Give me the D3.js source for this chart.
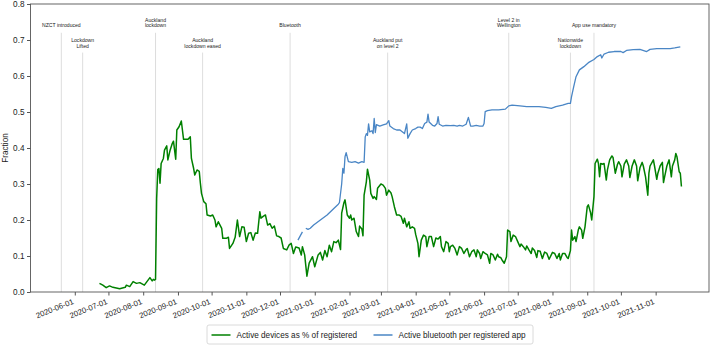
<!DOCTYPE html>
<html><head><meta charset="utf-8">
<script src="https://cdn.jsdelivr.net/npm/d3@7"></script>
<style>body{margin:0;background:#fff}svg{display:block;font-family:"Liberation Sans",Arial,sans-serif}</style>
</head><body>
<svg id="c" width="714" height="345"></svg>
<script>
const greenDates = ["2020-06-23","2020-06-26","2020-06-29","2020-07-02","2020-07-05","2020-07-11","2020-07-16","2020-07-17","2020-07-20","2020-07-23","2020-07-26","2020-07-29","2020-08-02","2020-08-07","2020-08-09","2020-08-10","2020-08-11","2020-08-12","2020-08-13","2020-08-14","2020-08-15","2020-08-16","2020-08-17","2020-08-19","2020-08-20","2020-08-22","2020-08-23","2020-08-25","2020-08-27","2020-08-28","2020-08-30","2020-08-31","2020-09-02","2020-09-04","2020-09-06","2020-09-10","2020-09-12","2020-09-13","2020-09-15","2020-09-16","2020-09-18","2020-09-20","2020-09-21","2020-09-22","2020-09-24","2020-09-26","2020-09-27","2020-09-30","2020-10-02","2020-10-04","2020-10-05","2020-10-07","2020-10-10","2020-10-11","2020-10-14","2020-10-16","2020-10-17","2020-10-20","2020-10-22","2020-10-24","2020-10-26","2020-10-28","2020-10-30","2020-11-01","2020-11-03","2020-11-05","2020-11-07","2020-11-09","2020-11-11","2020-11-13","2020-11-14","2020-11-16","2020-11-18","2020-11-20","2020-11-22","2020-11-24","2020-11-26","2020-11-28","2020-11-30","2020-12-02","2020-12-04","2020-12-07","2020-12-09","2020-12-11","2020-12-13","2020-12-15","2020-12-18","2020-12-20","2020-12-21","2020-12-23","2020-12-25","2020-12-27","2020-12-30","2021-01-01","2021-01-04","2021-01-06","2021-01-08","2021-01-10","2021-01-12","2021-01-14","2021-01-16","2021-01-18","2021-01-20","2021-01-22","2021-01-24","2021-01-25","2021-01-27","2021-01-28","2021-01-30","2021-02-01","2021-02-02","2021-02-03","2021-02-05","2021-02-07","2021-02-09","2021-02-10","2021-02-12","2021-02-13","2021-02-14","2021-02-16","2021-02-17","2021-02-19","2021-02-20","2021-02-22","2021-02-23","2021-02-25","2021-02-26","2021-03-01","2021-03-03","2021-03-05","2021-03-06","2021-03-08","2021-03-10","2021-03-11","2021-03-13","2021-03-15","2021-03-17","2021-03-19","2021-03-21","2021-03-22","2021-03-24","2021-03-26","2021-03-27","2021-03-29","2021-03-31","2021-04-01","2021-04-03","2021-04-04","2021-04-06","2021-04-08","2021-04-10","2021-04-11","2021-04-13","2021-04-15","2021-04-17","2021-04-19","2021-04-21","2021-04-23","2021-04-24","2021-04-26","2021-04-28","2021-04-30","2021-05-01","2021-05-02","2021-05-04","2021-05-06","2021-05-08","2021-05-10","2021-05-12","2021-05-14","2021-05-16","2021-05-17","2021-05-19","2021-05-21","2021-05-23","2021-05-25","2021-05-26","2021-05-28","2021-05-29","2021-05-31","2021-06-02","2021-06-04","2021-06-06","2021-06-07","2021-06-09","2021-06-11","2021-06-13","2021-06-14","2021-06-16","2021-06-17","2021-06-19","2021-06-21","2021-06-22","2021-06-24","2021-06-25","2021-06-27","2021-06-29","2021-07-01","2021-07-03","2021-07-04","2021-07-06","2021-07-08","2021-07-09","2021-07-11","2021-07-13","2021-07-14","2021-07-16","2021-07-18","2021-07-19","2021-07-21","2021-07-23","2021-07-25","2021-07-27","2021-07-29","2021-08-01","2021-08-03","2021-08-05","2021-08-07","2021-08-08","2021-08-10","2021-08-12","2021-08-14","2021-08-15","2021-08-17","2021-08-18","2021-08-19","2021-08-21","2021-08-22","2021-08-24","2021-08-25","2021-08-27","2021-08-28","2021-08-30","2021-09-01","2021-09-02","2021-09-04","2021-09-05","2021-09-07","2021-09-08","2021-09-10","2021-09-11","2021-09-12","2021-09-13","2021-09-15","2021-09-16","2021-09-18","2021-09-19","2021-09-21","2021-09-23","2021-09-24","2021-09-26","2021-09-28","2021-09-29","2021-10-01","2021-10-02","2021-10-04","2021-10-06","2021-10-08","2021-10-09","2021-10-11","2021-10-13","2021-10-15","2021-10-16","2021-10-18","2021-10-20","2021-10-21","2021-10-23","2021-10-25","2021-10-26","2021-10-27","2021-10-30","2021-10-31","2021-11-02","2021-11-03","2021-11-05","2021-11-07","2021-11-08","2021-11-09","2021-11-11","2021-11-13","2021-11-15","2021-11-16","2021-11-18","2021-11-19","2021-11-20","2021-11-22","2021-11-23","2021-11-24"];
const greenValues = [0.024,0.019,0.012,0.017,0.013,0.009,0.013,0.019,0.015,0.029,0.024,0.026,0.019,0.040,0.031,0.035,0.033,0.035,0.26,0.34,0.343,0.302,0.357,0.371,0.394,0.406,0.367,0.394,0.413,0.419,0.369,0.45,0.459,0.475,0.424,0.424,0.431,0.371,0.343,0.325,0.339,0.335,0.302,0.274,0.251,0.245,0.214,0.211,0.214,0.2,0.181,0.195,0.177,0.149,0.149,0.152,0.121,0.135,0.152,0.2,0.154,0.181,0.18,0.14,0.163,0.165,0.144,0.164,0.163,0.223,0.205,0.21,0.214,0.186,0.19,0.177,0.183,0.156,0.154,0.15,0.121,0.117,0.13,0.135,0.107,0.125,0.122,0.103,0.126,0.103,0.044,0.08,0.098,0.07,0.103,0.11,0.089,0.115,0.098,0.13,0.112,0.14,0.137,0.144,0.118,0.219,0.248,0.256,0.214,0.205,0.214,0.2,0.205,0.168,0.154,0.183,0.175,0.156,0.269,0.306,0.341,0.311,0.274,0.26,0.265,0.257,0.288,0.3,0.297,0.288,0.269,0.283,0.275,0.265,0.237,0.214,0.214,0.21,0.191,0.205,0.181,0.195,0.177,0.181,0.177,0.16,0.135,0.098,0.144,0.158,0.154,0.126,0.154,0.154,0.126,0.15,0.147,0.154,0.126,0.112,0.14,0.135,0.112,0.126,0.13,0.121,0.103,0.126,0.121,0.107,0.118,0.121,0.098,0.112,0.117,0.098,0.117,0.107,0.093,0.112,0.107,0.103,0.08,0.107,0.103,0.089,0.105,0.098,0.095,0.089,0.08,0.098,0.172,0.168,0.14,0.158,0.154,0.14,0.126,0.133,0.126,0.117,0.128,0.117,0.107,0.122,0.115,0.096,0.115,0.113,0.093,0.111,0.107,0.091,0.11,0.107,0.093,0.107,0.089,0.107,0.107,0.096,0.093,0.115,0.172,0.144,0.154,0.14,0.172,0.181,0.172,0.149,0.181,0.237,0.242,0.22,0.2,0.265,0.357,0.369,0.357,0.32,0.357,0.355,0.357,0.311,0.339,0.367,0.378,0.374,0.33,0.355,0.362,0.35,0.32,0.355,0.367,0.35,0.318,0.35,0.367,0.35,0.309,0.345,0.36,0.35,0.32,0.269,0.33,0.35,0.367,0.35,0.313,0.33,0.35,0.36,0.304,0.32,0.35,0.367,0.32,0.35,0.367,0.385,0.376,0.334,0.33,0.293];

const blueDates = ["2020-12-17","2020-12-21","2020-12-22","2020-12-24","2020-12-26","2020-12-28","2020-12-31","2021-01-06","2021-01-12","2021-01-18","2021-01-22","2021-01-23","2021-01-25","2021-01-26","2021-01-27","2021-01-28","2021-01-29","2021-01-31","2021-02-03","2021-02-06","2021-02-09","2021-02-12","2021-02-14","2021-02-15","2021-02-16","2021-02-17","2021-02-18","2021-02-19","2021-02-21","2021-02-22","2021-02-23","2021-02-24","2021-02-25","2021-02-28","2021-03-03","2021-03-06","2021-03-08","2021-03-09","2021-03-12","2021-03-15","2021-03-18","2021-03-22","2021-03-24","2021-03-25","2021-03-27","2021-03-29","2021-04-01","2021-04-03","2021-04-05","2021-04-07","2021-04-09","2021-04-11","2021-04-12","2021-04-13","2021-04-16","2021-04-18","2021-04-20","2021-04-21","2021-04-22","2021-04-25","2021-04-28","2021-05-02","2021-05-05","2021-05-08","2021-05-10","2021-05-13","2021-05-16","2021-05-18","2021-05-20","2021-05-22","2021-05-25","2021-05-28","2021-05-31","2021-06-01","2021-06-02","2021-06-04","2021-06-08","2021-06-14","2021-06-20","2021-06-23","2021-06-26","2021-07-03","2021-07-09","2021-07-14","2021-07-20","2021-07-26","2021-07-31","2021-08-04","2021-08-10","2021-08-15","2021-08-17","2021-08-18","2021-08-20","2021-08-22","2021-08-25","2021-08-29","2021-09-02","2021-09-07","2021-09-10","2021-09-13","2021-09-14","2021-09-16","2021-09-20","2021-09-25","2021-10-01","2021-10-03","2021-10-06","2021-10-12","2021-10-18","2021-10-24","2021-10-27","2021-11-02","2021-11-08","2021-11-14","2021-11-18","2021-11-23"];
const blueValues = [0.144,0.167,null,0.177,0.174,0.177,0.186,0.2,0.214,0.232,0.244,0.248,0.3,0.343,0.33,0.376,0.387,0.362,0.36,0.362,0.358,0.362,0.36,0.431,0.44,0.435,0.467,0.445,0.448,0.44,0.482,0.443,0.465,0.461,0.464,0.467,0.476,0.461,0.454,0.45,0.45,0.44,0.467,0.427,0.44,0.45,0.454,0.458,0.458,0.454,0.468,0.472,0.494,0.472,0.463,0.461,0.468,0.487,0.466,0.461,0.463,0.462,0.463,0.461,0.463,0.461,0.466,0.485,0.461,0.461,0.463,0.461,0.461,0.468,0.501,0.504,0.506,0.506,0.508,0.517,0.519,0.517,0.515,0.515,0.515,0.513,0.51,0.515,0.519,0.524,0.524,0.543,0.571,0.598,0.617,0.626,0.637,0.646,0.654,0.659,0.65,0.661,0.666,0.668,0.668,0.665,0.671,0.673,0.674,0.668,0.674,0.676,0.676,0.676,0.678,0.681];

const eventDates = ["2020-05-20","2020-06-08","2020-08-12","2020-09-23","2020-12-10","2021-03-07","2021-06-23","2021-08-17","2021-09-07"];
const eventLabels = ["NZCT introduced","Lockdown\nLifted","Auckland\nlockdown","Auckland\nlockdown eased","Bluetooth","Auckland put\non level 2","Level 2 in\nWellington","Nationwide\nlockdown","App use mandatory"];

const xTickDates = ["2020-06-01","2020-07-01","2020-08-01","2020-09-01","2020-10-01","2020-11-01","2020-12-01","2021-01-01","2021-02-01","2021-03-01","2021-04-01","2021-05-01","2021-06-01","2021-07-01","2021-08-01","2021-09-01","2021-10-01","2021-11-01"];
const yTicks = [0,0.1,0.2,0.3,0.4,0.5,0.6,0.7,0.8];
const seriesNames = ["Active devices as % of registered","Active bluetooth per registered app"];
const seriesColors = ["#008000","#4a86c5"];
const xDomain = ["2020-04-22T12:00","2021-12-18T14:00"];

const parse = d3.utcParse("%Y-%m-%d");
const parseT = d3.utcParse("%Y-%m-%dT%H:%M");
const svg = d3.select("#c");
const L = 30.5, R = 709, T = 4, B = 292;
const x = d3.scaleUtc().domain(xDomain.map(parseT)).range([L, R]);
const y = d3.scaleLinear().domain([0, 0.8]).range([B, T]);

const green = greenDates.map((d,i)=>({d:parse(d), v:greenValues[i]}));
const blue = blueDates.map((d,i)=>({d:parse(d), v:blueValues[i]}));

// event lines
const ev = svg.append("g");
eventDates.forEach((d,i)=>{
  const xx = x(parse(d));
  const row = i % 2;
  const lineTopVal = row === 0 ? 0.72 : 0.665;
  ev.append("line").attr("x1",xx).attr("x2",xx).attr("y1",y(lineTopVal)).attr("y2",B)
    .attr("stroke","#d9d9d9").attr("stroke-width",0.9);
  const lines = eventLabels[i].split("\n");
  const lastBase = row === 0 ? 27.2 : 47.6;
  lines.forEach((t,k)=>{
    ev.append("text").attr("x",xx).attr("y", lastBase - (lines.length-1-k)*5.6)
      .attr("text-anchor","middle").attr("font-size",5.1).attr("fill","#222").text(t);
  });
});

const line = d3.line().defined(p=>p.v!==null).x(p=>x(p.d)).y(p=>y(p.v));
svg.append("path").datum(green).attr("d",line).attr("fill","none").attr("stroke",seriesColors[0]).attr("stroke-width",1.5).attr("stroke-linejoin","round");
svg.append("path").datum(blue).attr("d",line).attr("fill","none").attr("stroke",seriesColors[1]).attr("stroke-width",1.3).attr("stroke-linejoin","round");

// frame
svg.append("rect").attr("x",L).attr("y",T).attr("width",R-L).attr("height",B-T).attr("fill","none").attr("stroke","#555").attr("stroke-width",0.9);

// y axis
const ya = svg.append("g").attr("transform",`translate(${L},0)`)
  .call(d3.axisLeft(y).tickValues(yTicks).tickFormat(d3.format(".1f")).tickSize(3.5).tickPadding(2.5));
ya.select(".domain").remove();
ya.selectAll("line").attr("stroke","#555");
ya.selectAll("text").attr("font-size",8.2).attr("fill","#222").attr("font-family","Liberation Sans, Arial, sans-serif");

// x axis
const xa = svg.append("g").attr("transform",`translate(0,${B})`)
  .call(d3.axisBottom(x).tickValues(xTickDates.map(parse)).tickFormat(d3.utcFormat("%Y-%m-%d")).tickSize(3.5));
xa.select(".domain").remove();
xa.selectAll("line").attr("stroke","#555");
xa.selectAll("text").attr("font-size",7.8).attr("fill","#222").attr("font-family","Liberation Sans, Arial, sans-serif")
  .attr("text-anchor","end").attr("dy",null).attr("y",null)
  .attr("transform","translate(-1,11.5) rotate(-22)");

// y label
svg.append("text").attr("transform",`translate(7.5,${(T+B)/2}) rotate(-90)`).attr("text-anchor","middle")
  .attr("font-size",8.2).attr("fill","#222").text("Fraction");

// legend
const lg = svg.append("g");
lg.append("rect").attr("x",207).attr("y",325).attr("width",326).attr("height",19).attr("rx",2)
  .attr("fill","#fff").attr("stroke","#d0d0d0").attr("stroke-width",0.8);
const legX = [211.5, 373.5];
seriesNames.forEach((n,i)=>{
  lg.append("line").attr("x1",legX[i]).attr("x2",legX[i]+19).attr("y1",335).attr("y2",335)
    .attr("stroke",seriesColors[i]).attr("stroke-width",1.5);
  lg.append("text").attr("x",legX[i]+25).attr("y",338).attr("font-size",8.2).attr("fill","#222").text(n);
});
</script>
</body></html>
